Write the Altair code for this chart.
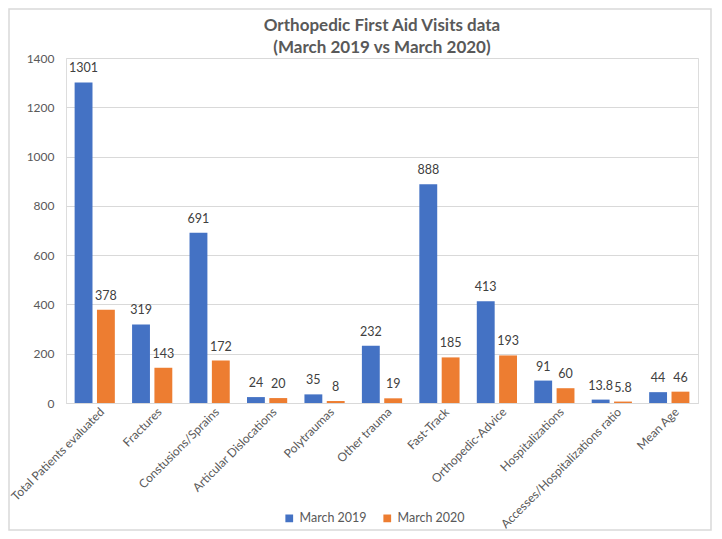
import altair as alt
import pandas as pd

categories = ["Total Patients evaluated", "Fractures", "Constusions/Sprains",
              "Articular Dislocations", "Polytraumas", "Other trauma", "Fast-Track",
              "Orthopedic-Advice", "Hospitalizations", "Accesses/Hospitalizations ratio",
              "Mean Age"]
series_names = ["March 2019", "March 2020"]
march_2019 = [1301, 319, 691, 24, 35, 232, 888, 413, 91, 13.8, 44]
march_2020 = [378, 143, 172, 20, 8, 19, 185, 193, 60, 5.8, 46]
y_ticks = [0, 200, 400, 600, 800, 1000, 1200, 1400]
colors = ["#4472C4", "#ED7D31"]

rows = []
for c, a, b in zip(categories, march_2019, march_2020):
    rows.append({"cat": c, "series": series_names[0], "value": a,
                 "label": f"{a:g}"})
    rows.append({"cat": c, "series": series_names[1], "value": b,
                 "label": f"{b:g}"})
df = pd.DataFrame(rows)

FONT = "Lato"

x = alt.X("cat:N", sort=categories, title=None,
          scale=alt.Scale(paddingInner=0.30, paddingOuter=0.15),
          axis=alt.Axis(labelAngle=-45, labelAlign="right", labelBaseline="top",
                        labelFontSize=12, labelColor="#595959", labelFont=FONT,
                        ticks=False, domainColor="#D9D9D9", labelPadding=3,
                        labelLimit=300, labelOffset=4))
xo = alt.XOffset("series:N", sort=series_names,
                 scale=alt.Scale(paddingInner=0.2))
y = alt.Y("value:Q", title=None,
          scale=alt.Scale(domain=[0, 1400]),
          axis=alt.Axis(values=y_ticks, format="d", labelFontSize=12,
                        labelColor="#595959", labelFont=FONT, ticks=False,
                        domain=False, gridColor="#D9D9D9", labelPadding=12))
color = alt.Color("series:N", sort=series_names,
                  scale=alt.Scale(domain=series_names, range=colors),
                  legend=alt.Legend(title=None, orient="none", direction="horizontal",
                                    legendX=217, legendY=454, symbolType="square",
                                    symbolSize=60, labelFontSize=12.5, labelFont=FONT,
                                    labelColor="#595959", columnPadding=14,
                                    symbolStrokeWidth=0))

bars = alt.Chart(df).mark_bar().encode(x=x, xOffset=xo, y=y, color=color)
labels = alt.Chart(df).mark_text(dy=-14, fontSize=12.5, font=FONT,
                                 color="#404040").encode(
    x=x, xOffset=xo, y=y, text="label:N")

frame = alt.Chart(pd.DataFrame({"a": [0]})).mark_rect(
    fill=None, stroke="#D9D9D9", strokeWidth=1.5, clip=False).encode(
    x=alt.value(-57), x2=alt.value(645), y=alt.value(-49), y2=alt.value(472))

chart = alt.layer(bars, labels, frame).properties(
    width=632, height=345,
    title=alt.Title(["Orthopedic First Aid Visits data", "(March 2019 vs March 2020)"],
                    fontSize=17, font=FONT, fontWeight="bold", color="#595959",
                    anchor="middle", offset=-49, lineHeight=22),
    autosize=alt.AutoSizeParams(type="none"),
    padding={"left": 58, "top": 50, "right": 14, "bottom": 128},
).configure_view(stroke=None).configure(background="white")

chart.save("out.html", embed_options={"renderer": "svg", "actions": False})
